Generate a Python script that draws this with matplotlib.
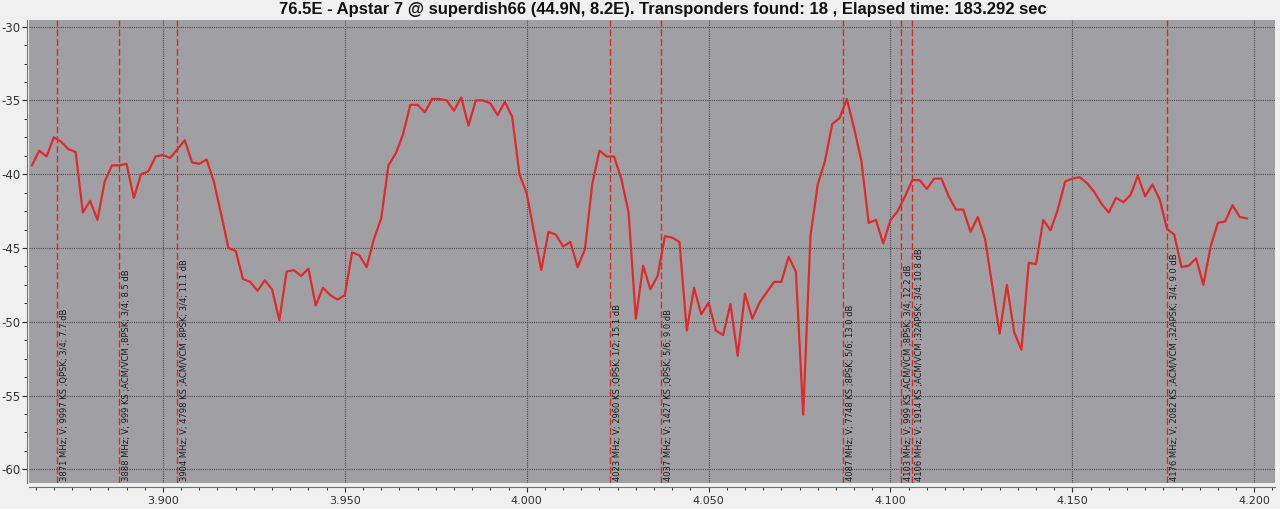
import numpy as np
import matplotlib
matplotlib.use("Agg")
import matplotlib.pyplot as plt
from matplotlib.ticker import MultipleLocator, FormatStrFormatter

# sweep frequencies (MHz) and measured level (dB)
freq_mhz = [
    3864, 3866, 3868, 3870, 3872, 3874, 3876, 3878, 3880, 3882,
    3884, 3886, 3888, 3890, 3892, 3894, 3896, 3898, 3900, 3902,
    3904, 3906, 3908, 3910, 3912, 3914, 3916, 3918, 3920, 3922,
    3924, 3926, 3928, 3930, 3932, 3934, 3936, 3938, 3940, 3942,
    3944, 3946, 3948, 3950, 3952, 3954, 3956, 3958, 3960, 3962,
    3964, 3966, 3968, 3970, 3972, 3974, 3976, 3978, 3980, 3982,
    3984, 3986, 3988, 3990, 3992, 3994, 3996, 3998, 4000, 4002,
    4004, 4006, 4008, 4010, 4012, 4014, 4016, 4018, 4020, 4022,
    4024, 4026, 4028, 4030, 4032, 4034, 4036, 4038, 4040, 4042,
    4044, 4046, 4048, 4050, 4052, 4054, 4056, 4058, 4060, 4062,
    4064, 4066, 4068, 4070, 4072, 4074, 4076, 4078, 4080, 4082,
    4084, 4086, 4088, 4090, 4092, 4094, 4096, 4098, 4100, 4102,
    4104, 4106, 4108, 4110, 4112, 4114, 4116, 4118, 4120, 4122,
    4124, 4126, 4128, 4130, 4132, 4134, 4136, 4138, 4140, 4142,
    4144, 4146, 4148, 4150, 4152, 4154, 4156, 4158, 4160, 4162,
    4164, 4166, 4168, 4170, 4172, 4174, 4176, 4178, 4180, 4182,
    4184, 4186, 4188, 4190, 4192, 4194, 4196, 4198,
]
level_db = [
    -39.4, -38.4, -38.8, -37.5, -37.8, -38.3, -38.5, -42.6, -41.8, -43.1,
    -40.5, -39.4, -39.4, -39.3, -41.6, -40.0, -39.8, -38.8, -38.7, -38.9,
    -38.3, -37.7, -39.2, -39.3, -39.0, -40.5, -42.7, -45.0, -45.2, -47.1,
    -47.3, -47.9, -47.2, -47.8, -49.9, -46.6, -46.5, -46.9, -46.4, -48.9,
    -47.7, -48.2, -48.5, -48.2, -45.3, -45.5, -46.3, -44.4, -43.0, -39.4,
    -38.6, -37.3, -35.3, -35.3, -35.8, -34.9, -34.9, -35.0, -35.7, -34.8,
    -36.7, -35.0, -35.0, -35.2, -36.0, -35.1, -36.1, -40.0, -41.3, -43.9,
    -46.5, -43.9, -44.1, -44.9, -44.6, -46.3, -45.1, -40.7, -38.4, -38.8,
    -38.8, -40.3, -42.6, -49.8, -46.2, -47.8, -46.9, -44.2, -44.3, -44.6,
    -50.6, -47.7, -49.5, -48.7, -50.6, -50.9, -48.8, -52.3, -48.1, -49.8,
    -48.7, -48.0, -47.3, -47.3, -45.6, -46.6, -56.3, -44.2, -40.7, -39.1,
    -36.6, -36.2, -34.9, -36.9, -39.1, -43.3, -43.1, -44.7, -43.1, -42.5,
    -41.5, -40.4, -40.4, -41.0, -40.3, -40.3, -41.5, -42.4, -42.4, -43.9,
    -42.9, -44.4, -47.6, -50.8, -47.5, -50.7, -51.9, -46.0, -46.1, -43.1,
    -43.8, -42.4, -40.5, -40.3, -40.2, -40.6, -41.2, -42.0, -42.6, -41.6,
    -41.9, -41.4, -40.1, -41.5, -40.7, -41.7, -43.7, -44.1, -46.3, -46.2,
    -45.7, -47.5, -44.9, -43.3, -43.2, -42.1, -42.9, -43.0,
]

# transponders found
tp_freq_mhz = [3871, 3888, 3904, 4023, 4037, 4087, 4103, 4106, 4176]
tp_labels = [
    "3871 MHz; V; 9997 KS ;QPSK; 3/4; 7.7 dB",
    "3888 MHz; V; 999 KS ;ACM/VCM ;8PSK; 3/4; 8.5 dB",
    "3904 MHz; V; 4798 KS ;ACM/VCM ;8PSK; 3/4; 11.1 dB",
    "4023 MHz; V; 2960 KS ;QPSK; 1/2; 15.1 dB",
    "4037 MHz; V; 1427 KS ;QPSK; 5/6; 9.0 dB",
    "4087 MHz; V; 7748 KS ;8PSK; 5/6; 13.0 dB",
    "4103 MHz; V; 999 KS ;ACM/VCM ;8PSK; 3/4; 12.2 dB",
    "4106 MHz; V; 1914 KS ;ACM/VCM ;32APSK; 3/4; 10.8 dB",
    "4176 MHz; V; 2082 KS ;ACM/VCM ;32APSK; 3/4; 9.0 dB",
]

title = ("76.5E - Apstar 7 @ superdish66 (44.9N, 8.2E). "
         "Transponders found: 18 , Elapsed time: 183.292 sec")

plt.rcParams['font.family'] = ['DejaVu Sans']

fig = plt.figure(figsize=(12.8, 5.09), dpi=100, facecolor='#f0f0f0')
ax = fig.add_axes([0.0227, 0.0505, 0.9734, 0.9102])
ax.set_facecolor('#a0a0a4')

x = np.array(freq_mhz) / 1000.0
ax.plot(x, level_db, color='#e02a2a', lw=1.6, zorder=3)

for f, lab in zip(tp_freq_mhz, tp_labels):
    ax.axvline(f / 1000.0, color='#d42a2a', lw=1.0, ls=(0, (5, 2)), zorder=2)
    ax.annotate(lab, xy=(f / 1000.0, 0), xycoords=('data', 'axes fraction'),
                xytext=(2, 1.5), textcoords='offset points',
                rotation=90, ha='left', va='bottom', fontsize=6,
                color='#1a1a1a', zorder=4)

ax.set_xlim(3.8632, 4.2057)
ax.set_ylim(-60.95, -29.55)

ax.xaxis.set_major_locator(MultipleLocator(0.05))
ax.xaxis.set_minor_locator(MultipleLocator(0.005))
ax.xaxis.set_major_formatter(FormatStrFormatter('%.3f'))
ax.yaxis.set_major_locator(MultipleLocator(5))
ax.yaxis.set_minor_locator(MultipleLocator(1.25))
ax.yaxis.set_major_formatter(FormatStrFormatter('%d'))

ax.grid(True, which='major', color='#4a4a4a', ls=(0, (1, 1)), lw=0.8, zorder=1)

for s in ['top', 'right']:
    ax.spines[s].set_visible(False)
ax.spines['bottom'].set_position(('outward', 3))
ax.spines['left'].set_position(('outward', 1.5))
ax.spines['bottom'].set_color('#707070')
ax.spines['left'].set_color('#707070')
ax.tick_params(which='major', direction='out', length=3.5, width=0.8,
               color='#303030', labelsize=8, labelcolor='#303030', pad=3)
ax.tick_params(which='minor', direction='out', length=2.2, width=0.7,
               color='#303030')
ax.tick_params(axis='y', which='major', labelsize=8.5, pad=1)

fig.text(0.5177, 0.981, title, ha='center', va='center', fontsize=12,
         fontweight='bold', family='Liberation Sans', color='#111111')

fig.savefig('out.png', dpi=100, facecolor=fig.get_facecolor())
